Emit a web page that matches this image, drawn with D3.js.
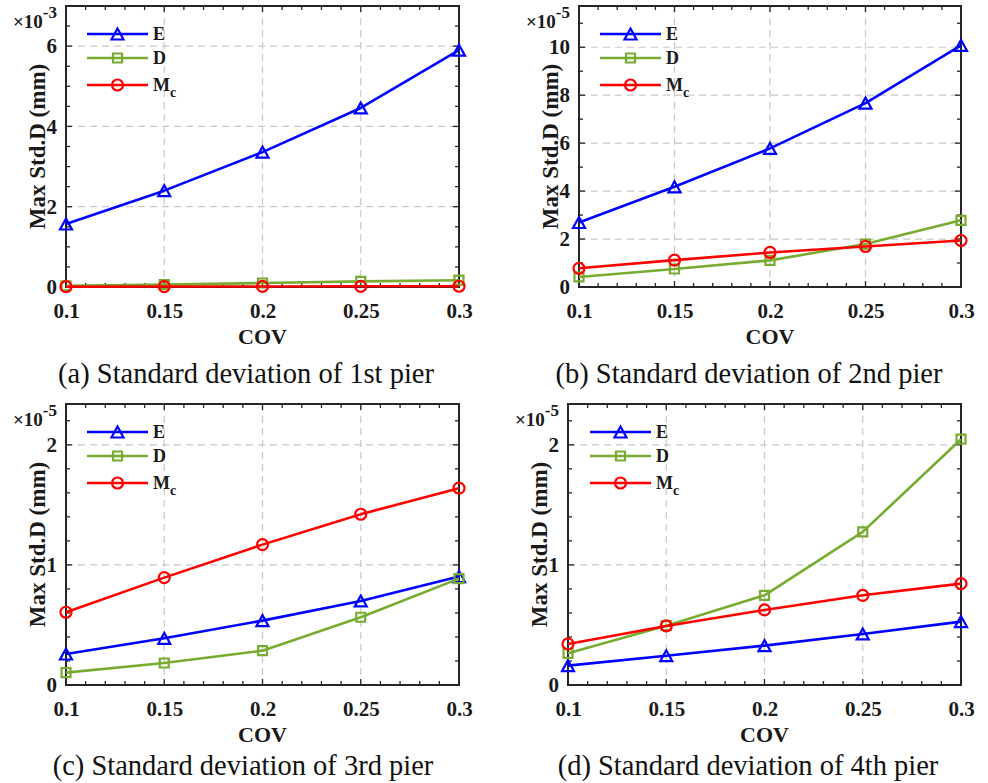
<!DOCTYPE html>
<html><head><meta charset="utf-8">
<script src="https://cdn.jsdelivr.net/npm/d3@7"></script>
<style>
html,body{margin:0;padding:0;background:#fff;}
svg{display:block;}
text{font-family:"Liberation Serif","Times New Roman",serif;}
</style></head>
<body>
<svg id="chart" width="988" height="783"></svg>
<script>
// ---------------- DATA ----------------
const cov = [0.1, 0.15, 0.2, 0.25, 0.3];
const xTicks = [0.1, 0.15, 0.2, 0.25, 0.3];
const xTickLabels = ["0.1", "0.15", "0.2", "0.25", "0.3"];
const seriesNames = ["E", "D", "Mc"];

// 1st pier (x1e-3 mm)
const pier1E  = [1.57, 2.40, 3.36, 4.46, 5.90];
const pier1D  = [0.03, 0.06, 0.10, 0.14, 0.17];
const pier1Mc = [0.008, 0.011, 0.014, 0.017, 0.019];
// 2nd pier (x1e-5 mm)
const pier2E  = [2.69, 4.18, 5.78, 7.67, 10.08];
const pier2D  = [0.42, 0.75, 1.11, 1.79, 2.78];
const pier2Mc = [0.78, 1.12, 1.44, 1.69, 1.94];
// 3rd pier (x1e-5 mm)
const pier3E  = [0.258, 0.389, 0.536, 0.700, 0.903];
const pier3D  = [0.103, 0.183, 0.286, 0.564, 0.886];
const pier3Mc = [0.606, 0.894, 1.169, 1.422, 1.639];
// 4th pier (x1e-5 mm)
const pier4E  = [0.161, 0.244, 0.328, 0.425, 0.528];
const pier4D  = [0.264, 0.494, 0.747, 1.275, 2.047];
const pier4Mc = [0.342, 0.492, 0.625, 0.747, 0.844];

const yTicks1 = [0, 2, 4, 6];
const yTicks2 = [0, 2, 4, 6, 8, 10];
const yTicks3 = [0, 1, 2];
const yTicks4 = [0, 1, 2];
const exponents = ["-3", "-5", "-5", "-5"];
const captions = [
  "(a) Standard deviation of 1st pier",
  "(b) Standard deviation of 2nd pier",
  "(c) Standard deviation of 3rd pier",
  "(d) Standard deviation of 4th pier"
];
const xLabel = "COV";
const yLabel = "Max Std.D (mm)";

// ---------------- LAYOUT ----------------
const svg = d3.select("#chart");
const colors = {E: "#0000FF", D: "#77AC30", Mc: "#FF0000"};
const axisColor = "#262626";
const FONT = '"Liberation Serif","Times New Roman",serif';

const panels = [
  {left: 66,  right: 459, top: 6,   bottom: 287, ymax: 7.0,  yTicks: yTicks1, yMinor: 0.5, data: [pier1E, pier1D, pier1Mc], exp: exponents[0], cap: captions[0], capX: 246, capY: 383, legX: 87},
  {left: 579, right: 961, top: 6,   bottom: 287, ymax: 11.72, yTicks: yTicks2, yMinor: 1,  data: [pier2E, pier2D, pier2Mc], exp: exponents[1], cap: captions[1], capX: 749, capY: 383, legX: 600},
  {left: 66,  right: 459, top: 404, bottom: 685, ymax: 2.34, yTicks: yTicks3, yMinor: 0.2, data: [pier3E, pier3D, pier3Mc], exp: exponents[2], cap: captions[2], capX: 243, capY: 775, legX: 87},
  {left: 568, right: 961, top: 404, bottom: 685, ymax: 2.34, yTicks: yTicks4, yMinor: 0.2, data: [pier4E, pier4D, pier4Mc], exp: exponents[3], cap: captions[3], capX: 748, capY: 775, legX: 590}
];

function markerPath(type) {
  if (type === "E") { const w = 12, h = 11; return `M0,${-h/2}L${w/2},${h/2}L${-w/2},${h/2}Z`; }
  if (type === "D") { const s = 9; return `M${-s/2},${-s/2}H${s/2}V${s/2}H${-s/2}Z`; }
  const r = 5.5; return `M${r},0A${r},${r} 0 1,1 ${-r},0A${r},${r} 0 1,1 ${r},0Z`;
}

function drawPanel(p) {
  const x = d3.scaleLinear().domain([0.1, 0.3]).range([p.left, p.right]);
  const y = d3.scaleLinear().domain([0, p.ymax]).range([p.bottom, p.top]);
  const g = svg.append("g");

  // grid
  const grid = g.append("g").attr("stroke", "#c8c8c8").attr("stroke-width", 1.2).attr("stroke-dasharray", "7,5");
  xTicks.slice(1, -1).forEach(t => grid.append("line").attr("x1", x(t)).attr("x2", x(t)).attr("y1", p.top).attr("y2", p.bottom));
  p.yTicks.filter(t => t > 0).forEach(t => grid.append("line").attr("x1", p.left).attr("x2", p.right).attr("y1", y(t)).attr("y2", y(t)));

  // minor ticks (inside, all four sides)
  const tk = g.append("g").attr("stroke", axisColor).attr("stroke-width", 1.3);
  const xMinor = d3.range(10, 31).map(v => v / 100);
  xMinor.forEach(t => {
    const isMajor = xTicks.some(m => Math.abs(m - t) < 1e-9);
    const L = isMajor ? 6 : 4;
    tk.append("line").attr("x1", x(t)).attr("x2", x(t)).attr("y1", p.bottom).attr("y2", p.bottom - L);
    tk.append("line").attr("x1", x(t)).attr("x2", x(t)).attr("y1", p.top).attr("y2", p.top + L);
  });
  const nY = Math.floor(p.ymax / p.yMinor + 1e-9);
  d3.range(0, nY + 1).map(i => i * p.yMinor).forEach(t => {
    const isMajor = p.yTicks.some(m => Math.abs(m - t) < 1e-9);
    const L = isMajor ? 6 : 4;
    tk.append("line").attr("x1", p.left).attr("x2", p.left + L).attr("y1", y(t)).attr("y2", y(t));
    tk.append("line").attr("x1", p.right).attr("x2", p.right - L).attr("y1", y(t)).attr("y2", y(t));
  });

  // axes using d3 axis for labels
  const xAxis = d3.axisBottom(x).tickValues(xTicks).tickFormat((d, i) => xTickLabels[i]).tickSize(0).tickPadding(16);
  g.append("g").attr("transform", `translate(0,${p.bottom})`).call(xAxis)
    .call(a => a.select(".domain").remove())
    .selectAll("text").attr("font-family", FONT).attr("font-size", 21).attr("font-weight", "bold").attr("fill", "#1a1a1a");
  const yAxis = d3.axisLeft(y).tickValues(p.yTicks).tickFormat(d3.format("d")).tickSize(0).tickPadding(9);
  g.append("g").attr("transform", `translate(${p.left},0)`).call(yAxis)
    .call(a => a.select(".domain").remove())
    .selectAll("text").attr("font-family", FONT).attr("font-size", 21).attr("font-weight", "bold").attr("fill", "#1a1a1a");

  // box
  g.append("rect").attr("x", p.left).attr("y", p.top).attr("width", p.right - p.left).attr("height", p.bottom - p.top)
    .attr("fill", "none").attr("stroke", axisColor).attr("stroke-width", 2);

  // exponent
  const ex = g.append("text").attr("x", p.left - 53).attr("y", p.top + 22).attr("font-size", 19).attr("font-weight", "bold").attr("fill", "#1a1a1a");
  ex.append("tspan").text("×10");
  ex.append("tspan").attr("dy", -10).attr("font-size", 17).text(p.exp);

  // axis labels
  g.append("text").attr("x", (p.left + p.right) / 2).attr("y", p.bottom + 57).attr("text-anchor", "middle")
    .attr("font-size", 22).attr("font-weight", "bold").attr("fill", "#1a1a1a").text(xLabel);
  g.append("text").attr("transform", `translate(${p.left - 29},${(p.top + p.bottom) / 2}) rotate(-90)`)
    .attr("text-anchor", "middle").attr("font-size", 23).attr("font-weight", "bold").attr("fill", "#1a1a1a")
    .attr("dy", "0.35em").text(yLabel);

  // caption
  g.append("text").attr("x", p.capX).attr("y", p.capY).attr("text-anchor", "middle")
    .attr("font-size", 28.5).attr("fill", "#111").text(p.cap);

  // series
  const line = d3.line().x((d, i) => x(cov[i])).y(d => y(d));
  seriesNames.forEach((name, si) => {
    const vals = p.data[si];
    g.append("path").datum(vals).attr("d", line).attr("fill", "none")
      .attr("stroke", colors[name]).attr("stroke-width", 2.6).attr("stroke-linejoin", "round");
    g.selectAll(null).data(vals).enter().append("path")
      .attr("transform", (d, i) => `translate(${x(cov[i])},${y(d)})`)
      .attr("d", markerPath(name)).attr("fill", "none").attr("stroke", colors[name]).attr("stroke-width", 2.2);
  });

  // legend
  const legY = [p.top + 28, p.top + 52, p.top + 79];
  seriesNames.forEach((name, si) => {
    const lg = g.append("g").attr("transform", `translate(${p.legX},${legY[si]})`);
    lg.append("line").attr("x1", 0).attr("x2", 61).attr("y1", 0).attr("y2", 0).attr("stroke", colors[name]).attr("stroke-width", 2.6);
    lg.append("path").attr("transform", "translate(30.5,0)").attr("d", markerPath(name))
      .attr("fill", "none").attr("stroke", colors[name]).attr("stroke-width", 2.2);
    const t = lg.append("text").attr("x", 66).attr("y", 6).attr("font-size", 18).attr("font-weight", "bold").attr("fill", "#1a1a1a");
    if (name === "Mc") {
      t.append("tspan").text("M");
      t.append("tspan").attr("dy", 6).attr("font-size", 14).text("c");
    } else {
      t.text(name);
    }
  });
}

panels.forEach(drawPanel);
</script>
</body></html>
